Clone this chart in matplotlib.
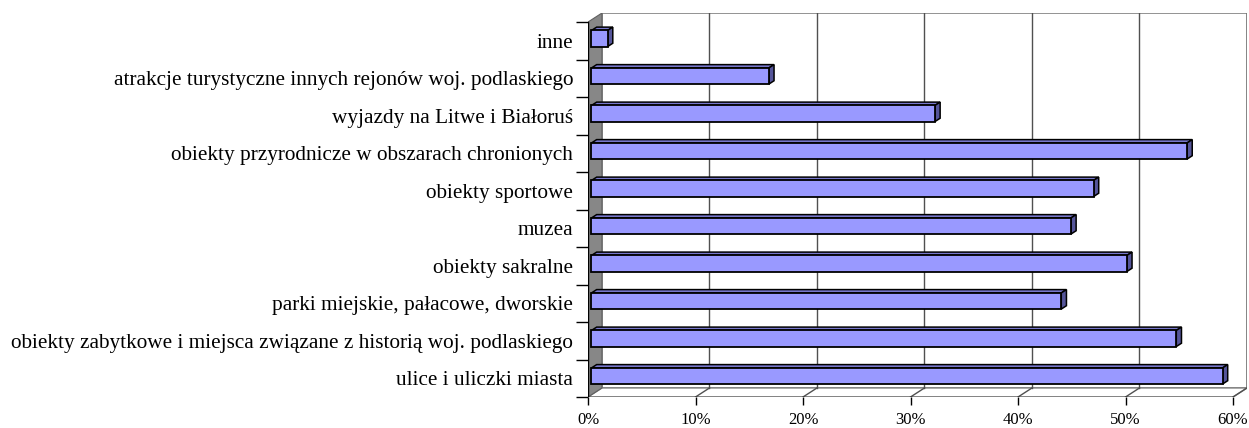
import matplotlib
matplotlib.use("Agg")
import matplotlib.pyplot as plt
from matplotlib.patches import Polygon

categories = [
    "ulice i uliczki miasta",
    "obiekty zabytkowe i miejsca związane z historią woj. podlaskiego",
    "parki miejskie, pałacowe, dworskie",
    "obiekty sakralne",
    "muzea",
    "obiekty sportowe",
    "obiekty przyrodnicze w obszarach chronionych",
    "wyjazdy na Litwe i Białoruś",
    "atrakcje turystyczne innych rejonów woj. podlaskiego",
    "inne",
]
values = [58.7, 54.4, 43.7, 49.8, 44.6, 46.7, 55.4, 31.95, 16.5, 1.5]
xticks = [0, 10, 20, 30, 40, 50, 60]
xticklabels = ["0%", "10%", "20%", "30%", "40%", "50%", "60%"]

FONT = "Liberation Serif"
W, H = 1249, 428
fig = plt.figure(figsize=(W / 100, H / 100), dpi=100)

# axes area: front-left-bottom corner at pixel (588, 397), back-right-top at (1247, 13)
left_px, right_px, top_px, bot_px = 588, 1247, 13, 397
ax = fig.add_axes([left_px / W, 1 - bot_px / H, (right_px - left_px) / W, (bot_px - top_px) / H])

n = len(categories)
DX = 1.3      # depth shift in data x units
DY = 0.241    # depth shift in category units
XMAX = 60
ax.set_xlim(0, XMAX + DX)
ax.set_ylim(-0.5, n - 0.5 + DY)
for s in ax.spines.values():
    s.set_visible(False)
ax.patch.set_visible(False)


def P(x, y, d):
    return (x + d * DX, y + d * DY)


grey = "#808080"
# back wall
ax.add_patch(Polygon([P(0, -0.5, 1), P(XMAX, -0.5, 1), P(XMAX, n - 0.5, 1), P(0, n - 0.5, 1)],
                     closed=True, facecolor="white", edgecolor=grey, lw=1.2, zorder=1))
# floor
ax.add_patch(Polygon([P(0, -0.5, 0), P(XMAX, -0.5, 0), P(XMAX, -0.5, 1), P(0, -0.5, 1)],
                     closed=True, facecolor="white", edgecolor=grey, lw=1.0, zorder=1))
# gridlines on back wall and floor
for xv in xticks[1:]:
    ax.plot(*zip(P(xv, -0.5, 1), P(xv, n - 0.5, 1)), color="#505050", lw=1.0, zorder=2)
    ax.plot(*zip(P(xv, -0.5, 0), P(xv, -0.5, 1)), color="#505050", lw=1.0, zorder=2)
# left wall
ax.add_patch(Polygon([P(0, -0.5, 0), P(0, -0.5, 1), P(0, n - 0.5, 1), P(0, n - 0.5, 0)],
                     closed=True, facecolor="#878787", edgecolor="#606060", lw=0.8, zorder=3))
# front axes lines
ax.plot([0, 0], [-0.5, n - 0.5], color="black", lw=1.0, zorder=4)
ax.plot([0, XMAX], [-0.5, -0.5], color="black", lw=1.0, zorder=4)

# bars
d0, d1 = 0.25, 0.62
hh = 0.215
front_c, top_c, side_c = "#9999FF", "#7777CC", "#55559A"
for i, v in enumerate(values):
    y0, y1 = i - hh, i + hh
    # top face
    ax.add_patch(Polygon([P(0, y1, d0), P(v, y1, d0), P(v, y1, d1), P(0, y1, d1)],
                         closed=True, facecolor=top_c, edgecolor="black", lw=1.1, zorder=5))
    # side face
    ax.add_patch(Polygon([P(v, y0, d0), P(v, y0, d1), P(v, y1, d1), P(v, y1, d0)],
                         closed=True, facecolor=side_c, edgecolor="black", lw=1.1, zorder=5))
    # front face
    ax.add_patch(Polygon([P(0, y0, d0), P(v, y0, d0), P(v, y1, d0), P(0, y1, d0)],
                         closed=True, facecolor=front_c, edgecolor="black", lw=1.3, zorder=6))

# ticks
ax.set_xticks(xticks)
ax.set_xticklabels(xticklabels, fontfamily=FONT, fontsize=12)
ax.tick_params(axis="x", direction="out", length=6, width=1, color="black", pad=4.5)
ax.set_yticks(range(n))
ax.set_yticklabels(categories, fontfamily=FONT, fontsize=15.3)
ax.tick_params(axis="y", length=0, pad=10.8)
ax.set_yticks([k - 0.5 for k in range(n + 1)], minor=True)
ax.tick_params(axis="y", which="minor", direction="out", length=8.6, width=1, color="black")

fig.savefig("out.png", dpi=100)
